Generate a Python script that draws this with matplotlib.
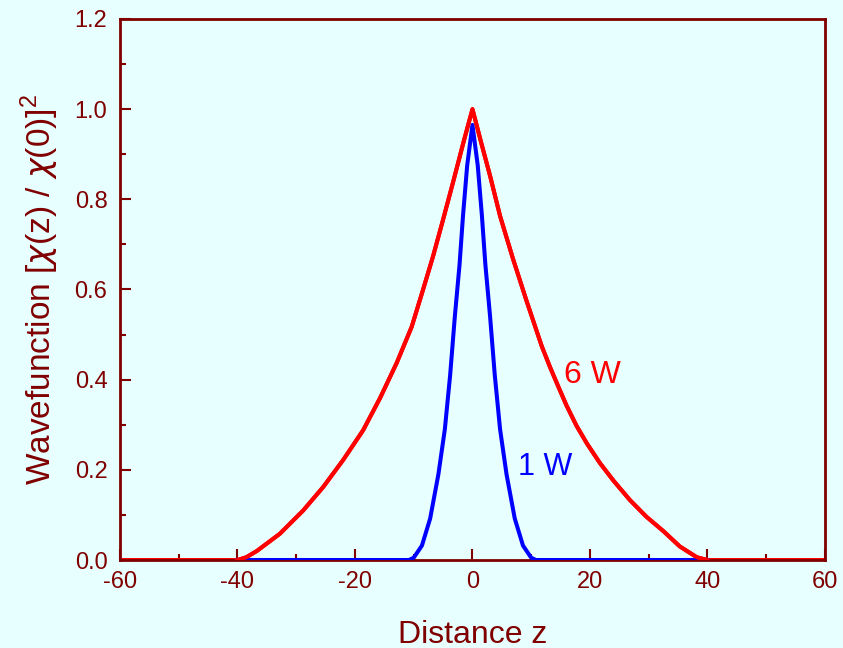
import matplotlib
matplotlib.use("Agg")
import matplotlib.pyplot as plt
from matplotlib.ticker import MultipleLocator, FormatStrFormatter

plt.rcParams['font.family'] = ['Liberation Sans', 'DejaVu Sans']
plt.rcParams['mathtext.fontset'] = 'custom'
plt.rcParams['mathtext.rm'] = 'Liberation Sans'
plt.rcParams['mathtext.it'] = 'DejaVu Sans:italic'
plt.rcParams['axes.unicode_minus'] = False

# Normalised probability density |chi(z)/chi(0)|^2 for the two well widths
z_6w = [-60, -40, -38.5, -36.7, -32.8, -28.8, -25.4, -22.0, -18.6, -15.7, -12.9,
        -10.35, -8.4, -6.7, -5.0, -3.3, -1.5, 0,
        1.5, 3.0, 4.7, 6.9, 9.2, 11.8, 13.2, 14.6, 16.0, 17.7, 19.5, 21.7, 24.0,
        26.8, 29.6, 32.5, 35.3, 38.2, 40, 60]
psi_6w = [0.0, 0.0, 0.006, 0.020, 0.058, 0.110, 0.162, 0.222, 0.288, 0.360, 0.437,
          0.517, 0.600, 0.674, 0.755, 0.838, 0.928, 1.0,
          0.925, 0.852, 0.763, 0.668, 0.575, 0.474, 0.428, 0.385, 0.343, 0.298,
          0.258, 0.215, 0.176, 0.133, 0.096, 0.064, 0.030, 0.006, 0.0, 0.0]

z_1w = [-40, -10.8, -10.0, -8.6, -7.2, -5.8, -4.7, -3.8, -3.0, -2.2, -1.6, -0.9, 0,
        0.9, 1.6, 2.2, 3.0, 3.8, 4.7, 5.8, 7.2, 8.6, 10.0, 10.8, 40]
psi_1w = [0.0, 0.0, 0.005, 0.032, 0.092, 0.190, 0.290, 0.410, 0.540, 0.655, 0.765,
          0.875, 0.965,
          0.875, 0.765, 0.655, 0.540, 0.410, 0.290, 0.190, 0.092, 0.032, 0.005,
          0.0, 0.0]

bg = '#E8FFFF'
dark = '#800000'
lw = 2.9

fig = plt.figure(figsize=(8.43, 6.48), dpi=100, facecolor=bg)
ax = fig.add_axes([0.1423, 0.1358, 0.8363, 0.8349], facecolor=bg)

ax.plot(z_6w, psi_6w, color='#FF0000', lw=lw, solid_joinstyle='round', zorder=2)
ax.plot(z_1w, psi_1w, color='#0000FF', lw=lw, solid_joinstyle='round', zorder=3)
# the rising flanks of the wide well sit above the narrow-well baseline
ax.plot(z_6w[1:-1], psi_6w[1:-1], color='#FF0000', lw=lw,
        solid_joinstyle='round', zorder=4)

ax.text(15.6, 0.411, '6 W', color='#FF0000', fontsize=23, va='center', ha='left')
ax.text(7.7, 0.207, '1 W', color='#0000FF', fontsize=22, va='center', ha='left')

ax.set_xlim(-60, 60)
ax.set_ylim(0, 1.2)
ax.xaxis.set_major_locator(MultipleLocator(20))
ax.xaxis.set_minor_locator(MultipleLocator(10))
ax.yaxis.set_major_locator(MultipleLocator(0.2))
ax.yaxis.set_minor_locator(MultipleLocator(0.1))
ax.yaxis.set_major_formatter(FormatStrFormatter('%.1f'))

for s in ax.spines.values():
    s.set_color(dark)
    s.set_linewidth(2)

ax.tick_params(which='both', direction='in', colors=dark, top=False, right=False,
               labelsize=17, width=1.5)
ax.tick_params(which='major', length=8)
ax.tick_params(which='minor', length=4)
ax.tick_params(axis='x', pad=8)
ax.tick_params(axis='y', pad=9)

ax.set_xlabel('Distance z', color=dark, fontsize=23, labelpad=19)
ax.set_ylabel(r'Wavefunction [$\chi$(z) / $\chi$(0)]$^{2}$', color=dark,
              fontsize=24, labelpad=10)

fig.savefig('out.png', dpi=100, facecolor=bg)
